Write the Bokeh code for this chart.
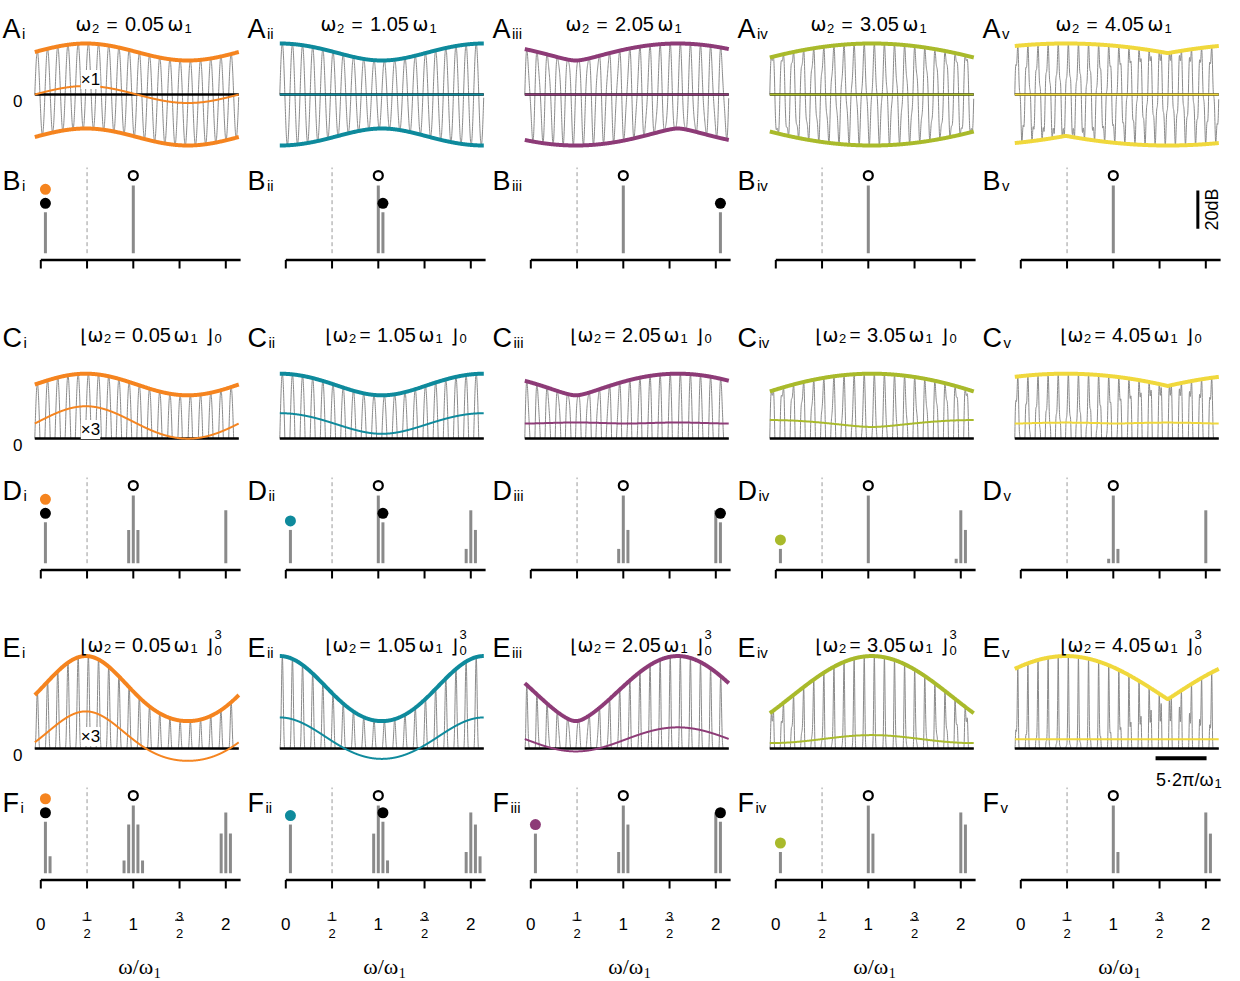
import numpy as np
from bokeh.plotting import figure
from bokeh.models import Range1d
from bokeh.core.properties import value
from bokeh.embed import file_html
from bokeh.resources import INLINE

# ---------------- values of the chart ----------------
ratios = [0.05, 1.05, 2.05, 3.05, 4.05]            # omega2 / omega1 (panel titles)
ratio_labels = ["0.05", "1.05", "2.05", "3.05", "4.05"]
romans = ["i", "ii", "iii", "iv", "v"]
series_colors = ["#F5841F", "#0E8A9C", "#8D3B77", "#A9BA2B", "#F0D83C"]
row_letters = ["A", "B", "C", "D", "E", "F"]
amp2 = 0.2            # amplitude of the omega2 tone (omega1 tone = 1)
n_periods = 20        # carrier periods shown in each time panel
lp_gain = [1, 3, 3]   # gain of the thin low-pass curve (x1, x3, x3)
lp_shift = [0.0, 0.677, 0.52]
lp_labels = ["×1", "×3", "×3"]
db_floor = -35.3
db_top = 9.4
freq_max = 2.16
tick_vals = [0, 0.5, 1, 1.5, 2]
tick_labels = ["0", "1/2", "1", "3/2", "2"]
scale_db = 20
scale_periods = 5

# ---------------- layout (image pixels) ----------------
W, H = 1236, 981
COL_DX = 245
T_X0, PX_PER_PERIOD = 34.3, 10.2      # image x of t=0 in column i
F_X0, PX_PER_FREQ = 40.3, 92.5        # image x of w=0 in column i
PX_PER_DB = 1.917
TIME_ZERO = {0: 94.0, 2: 438.0, 4: 748.0}
TIME_SCALE = {0: 42.5, 2: 54.0, 4: 53.5}
FLOOR_Y = {1: 252.7, 3: 562.7, 5: 872.7}
LETTER_BASE = [28, 180, 337, 490, 647, 802]
GRAY = "#8a8a8a"
SANS = "Liberation Sans"
GREEK = "DejaVu Sans"

# ---------------- model signals ----------------
N = 2000
t = np.arange(N) * n_periods / N
theta = np.linspace(0, 2 * np.pi, 1441)[:-1]
t_env = np.linspace(0, n_periods, 401)


def two_tone(r):
    return np.sin(2 * np.pi * t) + amp2 * np.sin(2 * np.pi * r * t)


def envelopes(r):
    k = round(r)
    delta = 2 * np.pi * (r - k) * t_env
    f = np.sin(theta)[None, :] + amp2 * np.sin(k * theta[None, :] + delta[:, None])
    return f.max(1), f.min(1)


def lowpass(y):
    X = np.fft.rfft(y)
    X[int(0.5 * n_periods):] = 0
    return np.fft.irfft(X, N)


def spectrum(y):
    X = np.abs(np.fft.rfft(y))
    freqs = np.arange(len(X)) / n_periods
    db = 20 * np.log10(np.maximum(X / X[n_periods], 1e-12))
    return freqs, db


transforms = [lambda s: s, lambda s: np.maximum(s, 0), lambda s: np.maximum(s, 0) ** 3]

# ---------------- figure with one scale per panel ----------------
p = figure(width=W, height=H, output_backend="svg", toolbar_location=None,
           x_range=Range1d(0, W), y_range=Range1d(H, 0),
           x_axis_location=None, y_axis_location=None,
           min_border=0, outline_line_color=None)
p.grid.visible = False
p.background_fill_color = "white"
p.border_fill_color = "white"

xr, yr = {}, {}
for c in range(5):
    x0 = T_X0 + COL_DX * c
    xr[f"t{c}"] = Range1d(-x0 / PX_PER_PERIOD, (W - x0) / PX_PER_PERIOD)
    x0 = F_X0 + COL_DX * c
    xr[f"f{c}"] = Range1d(-x0 / PX_PER_FREQ, (W - x0) / PX_PER_FREQ)
for ri in (0, 2, 4):
    y0 = TIME_ZERO[ri]
    s = TIME_SCALE[ri]
    yr[f"y{ri}"] = Range1d(-(H - y0) / s, y0 / s)
for ri in (1, 3, 5):
    y0 = FLOOR_Y[ri] + db_floor * PX_PER_DB
    yr[f"y{ri}"] = Range1d(-(H - y0) / PX_PER_DB, y0 / PX_PER_DB)
p.extra_x_ranges = xr
p.extra_y_ranges = yr


def txt(ix, iy, s, size, align="left", font=SANS, angle=0.0, bg=None, baseline="alphabetic"):
    kw = {}
    if bg is not None:
        kw["background_fill_color"] = bg
    p.text(x=[ix], y=[iy], text=[s], text_font=value(font),
           text_font_size=f"{size}px", text_align=align, text_baseline=baseline,
           text_color="black", angle=angle, **kw)


LETTER_W = {"A": 0.667, "B": 0.667, "C": 0.722, "D": 0.722, "E": 0.667, "F": 0.611}


def panel_letter(ri, c):
    L = row_letters[ri]
    lx = 2 + COL_DX * c
    txt(lx, LETTER_BASE[ri], L, 27)
    txt(lx + LETTER_W[L] * 27 + 1.5, LETTER_BASE[ri] + 5, romans[c], 15)


def title(ri, c):
    dx = COL_DX * c
    lab = ratio_labels[c]
    if ri == 0:
        b, sb = 23.5, 27.5
        txt(75 + dx, b, "ω", 19, font=GREEK)
        txt(91.5 + dx, sb, "2", 13)
        txt(106 + dx, b, "=", 19)
        txt(124.5 + dx, b, lab, 20)
        txt(167 + dx, b, "ω", 19, font=GREEK)
        txt(184 + dx, sb, "1", 13)
    else:
        b = 334 if ri == 2 else 644
        sb = b + 3.5
        txt(80 + dx, b + 1, "⌊", 19, font=GREEK)
        txt(87 + dx, b, "ω", 19, font=GREEK)
        txt(103.5 + dx, sb, "2", 13)
        txt(114 + dx, b, "=", 19)
        txt(131.5 + dx, b, lab, 20)
        txt(173 + dx, b, "ω", 19, font=GREEK)
        txt(190 + dx, sb, "1", 13)
        txt(205 + dx, b + 1, "⌋", 19, font=GREEK)
        if ri == 2:
            txt(214 + dx, b + 3.5, "0", 13)
        else:
            txt(214 + dx, b - 10, "3", 13)
            txt(214 + dx, b + 5.5, "0", 13)


def time_panel(ri, c):
    k = ri // 2
    xn, yn = f"t{c}", f"y{ri}"
    col = series_colors[c]
    s = two_tone(ratios[c])
    y = transforms[k](s)
    up, lo = envelopes(ratios[c])
    p.line(t, y, line_color=GRAY, line_width=1, x_range_name=xn, y_range_name=yn)
    p.segment(x0=[t[0]], x1=[n_periods], y0=[0], y1=[0], line_color="black", line_width=2.5,
              x_range_name=xn, y_range_name=yn)
    lp = lp_gain[k] * lowpass(y) - lp_shift[k]
    p.line(t, lp, line_color=col, line_width=2, x_range_name=xn, y_range_name=yn)
    p.line(t_env, transforms[k](up), line_color=col, line_width=4, x_range_name=xn, y_range_name=yn)
    if k == 0:
        p.line(t_env, lo, line_color=col, line_width=4, x_range_name=xn, y_range_name=yn)
    panel_letter(ri, c)
    title(ri, c)
    if c == 0:
        txt(22, TIME_ZERO[ri] + 6.1, "0", 17, align="right")
        ly = {0: 79, 2: 429, 4: 736}[ri]
        txt(90, ly, lp_labels[k], 17, align="center", bg="white")
    if ri == 4 and c == 4:
        yb = (TIME_ZERO[4] - 757.7) / TIME_SCALE[4]
        p.segment(x0=[13.8], x1=[13.8 + scale_periods], y0=[yb], y1=[yb],
                  line_color="black", line_width=4, x_range_name=xn, y_range_name=yn)
        txt(1213, 779, f"{scale_periods}·2π/ω", 18, align="right")
        txt(1214, 783, "1", 13)
    return y


def spec_panel(ri, c, y):
    xn, yn = f"f{c}", f"y{ri}"
    r = ratios[c]
    freqs, db = spectrum(y)
    m = (freqs > 0) & (freqs <= freq_max + 1e-9) & (db > db_floor)
    p.segment(x0=[0.5], x1=[0.5], y0=[db_floor], y1=[db_top], line_color="#9a9a9a",
              line_width=1, line_dash="4 3", x_range_name=xn, y_range_name=yn)
    p.segment(x0=freqs[m], x1=freqs[m], y0=db_floor, y1=db[m], line_color=GRAY, line_width=3,
              x_range_name=xn, y_range_name=yn)
    axis_db = db_floor - 6.8 / PX_PER_DB
    p.segment(x0=[0], x1=[freq_max], y0=[axis_db], y1=[axis_db], line_color="black",
              line_width=2.5, x_range_name=xn, y_range_name=yn)
    p.segment(x0=tick_vals, x1=tick_vals, y0=axis_db, y1=axis_db - 8.5 / PX_PER_DB,
              line_color="black", line_width=2, x_range_name=xn, y_range_name=yn)
    off = 9 / PX_PER_DB
    p.scatter(x=[1.0], y=[db[n_periods] + 10 / PX_PER_DB], size=9, marker="circle",
              fill_color="white", line_color="black", line_width=2.2,
              x_range_name=xn, y_range_name=yn)
    kk = int(round(r * n_periods))
    if r <= freq_max and db[kk] > db_floor:
        p.scatter(x=[r], y=[db[kk] + off], size=11, marker="circle",
                  fill_color="black", line_color=None, x_range_name=xn, y_range_name=yn)
    if db[1] > db_floor:
        extra = 23 / PX_PER_DB if kk == 1 else off
        p.scatter(x=[freqs[1]], y=[db[1] + extra], size=11, marker="circle",
                  fill_color=series_colors[c], line_color=None, x_range_name=xn, y_range_name=yn)
    panel_letter(ri, c)
    if ri == 1 and c == 4:
        p.segment(x0=[1.914], x1=[1.914], y0=[-22.6], y1=[-22.6 + scale_db],
                  line_color="black", line_width=3, x_range_name=xn, y_range_name=yn)
        txt(1211, 209, f"{scale_db}dB", 18, align="center", angle=np.pi / 2, baseline="middle")
    if ri == 5:
        for tv, tl in zip(tick_vals, tick_labels):
            px = F_X0 + COL_DX * c + tv * PX_PER_FREQ
            if "/" in tl:
                num, den = tl.split("/")
                txt(px, 916, num, 13, align="center")
                txt(px, 933, den, 13, align="center")
                p.segment(x0=[tv - 4.5 / PX_PER_FREQ], x1=[tv + 4.5 / PX_PER_FREQ],
                          y0=[db_floor - 47.0 / PX_PER_DB], y1=[db_floor - 47.0 / PX_PER_DB],
                          line_color="black", line_width=1, x_range_name=xn, y_range_name=yn)
            else:
                txt(px, 923, tl, 17, align="center")
        cx = F_X0 + COL_DX * c + 1.0 * PX_PER_FREQ
        txt(cx + 20, 966, "ω/ω", 22, align="right", font="Liberation Serif")
        txt(cx + 20.5, 972, "1", 14, font="Liberation Serif")


for pair in range(3):
    for c in range(5):
        sig = time_panel(2 * pair, c)
        spec_panel(2 * pair + 1, c, sig)

open("out.html", "w").write(file_html(p, INLINE))
